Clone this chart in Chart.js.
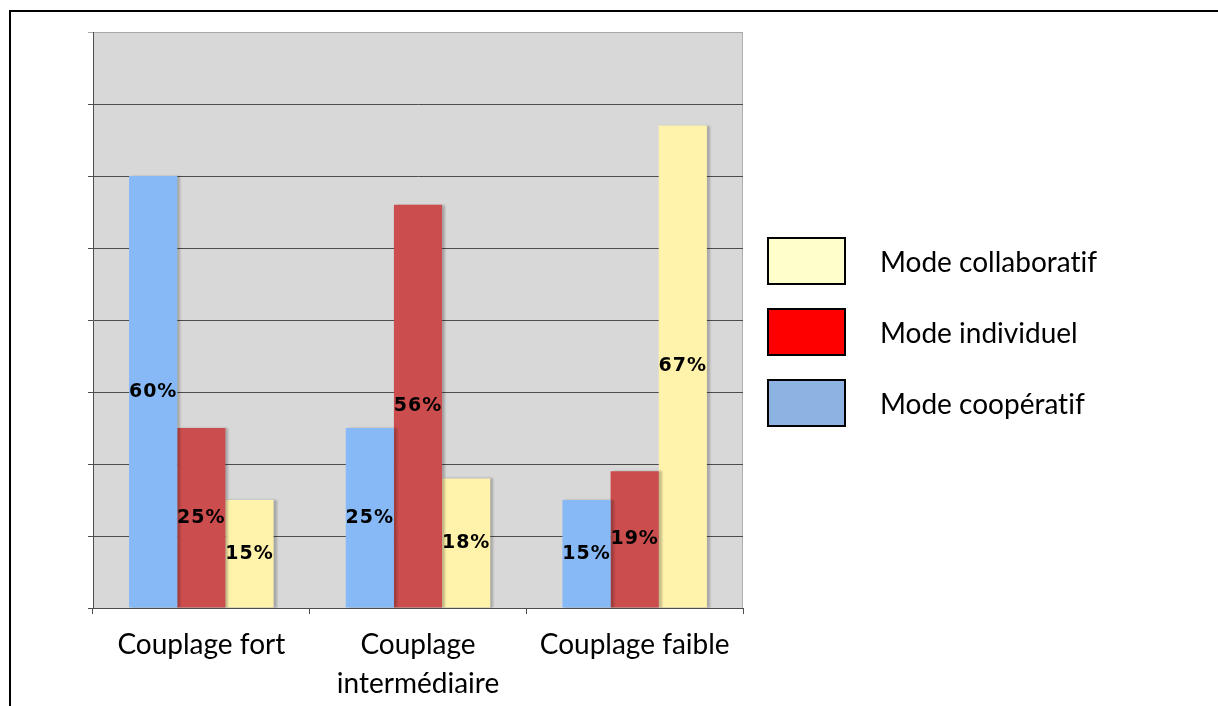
<!DOCTYPE html>
<html lang="fr">
<head>
<meta charset="utf-8">
<title>Modes de travail selon le couplage</title>
<script src="https://cdn.jsdelivr.net/npm/chart.js@4/dist/chart.umd.min.js"></script>
<style>
  body { margin: 0; background: #fff; overflow: hidden; }
  #wrap { position: relative; width: 1218px; height: 706px; }
  #frame { position: absolute; left: 9px; top: 10px; width: 1400px; height: 900px; border: 2px solid #000; box-sizing: border-box; }
  #chartBox { position: absolute; left: 0; top: 0; width: 1218px; height: 706px; }
  #legend { position: absolute; left: 767px; top: 237px; font-family: Lato, "Liberation Sans", sans-serif; font-size: 28px; color: #000; font-variant-ligatures: none; }
  .item { display: flex; align-items: center; height: 48px; margin-bottom: 23px; }
  .swatch { width: 79px; height: 48px; border: 2px solid #000; box-sizing: border-box; }
  .item span { margin-left: 34px; }
</style>
</head>
<body>
<div id="wrap">
  <div id="frame"></div>
  <div id="chartBox"><canvas id="modes"></canvas></div>
  <div id="legend"></div>
</div>
<script>
const categories = ["Couplage fort", ["Couplage", "intermédiaire"], "Couplage faible"];
const seriesNames = ["Mode coopératif", "Mode individuel", "Mode collaboratif"];
const cooperatif = [60, 25, 15];
const individuel = [25, 56, 19];
const collaboratif = [15, 18, 67];
const yTicks = [0, 10, 20, 30, 40, 50, 60, 70, 80];

const barColors = ["#87b9f6", "#cc4d4d", "#fff3ac"];
const legendColors = ["#8db3e2", "#ff0000", "#ffffcc"];

// grey plot area + light right edge
const plotBackground = {
  id: "plotBackground",
  beforeDraw(chart) {
    const { ctx, chartArea: a } = chart;
    ctx.save();
    ctx.fillStyle = "#d8d8d8";
    ctx.fillRect(a.left, a.top, a.right - a.left, a.bottom - a.top);
    ctx.strokeStyle = "#b0b0b0";
    ctx.lineWidth = 1;
    ctx.beginPath();
    ctx.moveTo(a.right - 0.5, a.top);
    ctx.lineTo(a.right - 0.5, a.bottom);
    ctx.stroke();
    ctx.restore();
  },
};

// soft shadow on the right side of the bars
const barShadow = {
  id: "barShadow",
  beforeDatasetsDraw(chart) {
    const ctx = chart.ctx;
    ctx.save();
    ctx.shadowColor = "rgba(0,0,0,0.22)";
    ctx.shadowOffsetX = 3;
    ctx.shadowOffsetY = 0;
    ctx.shadowBlur = 2;
  },
  afterDatasetsDraw(chart) {
    chart.ctx.restore();
  },
};

// value labels in the middle of each bar
const valueLabels = {
  id: "valueLabels",
  afterDatasetsDraw(chart) {
    const ctx = chart.ctx;
    ctx.save();
    ctx.font = "bold 19px 'DejaVu Sans', Verdana, sans-serif";
    ctx.letterSpacing = "1px";
    ctx.fillStyle = "#000";
    ctx.textAlign = "center";
    ctx.textBaseline = "middle";
    chart.data.datasets.forEach((ds, i) => {
      chart.getDatasetMeta(i).data.forEach((bar, j) => {
        const y = (bar.y + bar.base) / 2;
        ctx.fillText(ds.data[j] + "%", bar.x, y);
      });
    });
    ctx.restore();
  },
};

function buildLegend() {
  const box = document.getElementById("legend");
  for (let i = seriesNames.length - 1; i >= 0; i--) {
    const item = document.createElement("div");
    item.className = "item";
    const sw = document.createElement("div");
    sw.className = "swatch";
    sw.style.background = legendColors[i];
    const txt = document.createElement("span");
    txt.textContent = seriesNames[i];
    item.appendChild(sw);
    item.appendChild(txt);
    box.appendChild(item);
  }
}

const values = [cooperatif, individuel, collaboratif];

new Chart(document.getElementById("modes"), {
  type: "bar",
  data: {
    labels: categories,
    datasets: seriesNames.map((name, i) => ({
      label: name,
      data: values[i],
      backgroundColor: barColors[i],
      borderWidth: 0,
      categoryPercentage: 0.667,
      barPercentage: 1.0,
    })),
  },
  options: {
    responsive: true,
    maintainAspectRatio: false,
    animation: false,
    layout: { padding: { left: 88, top: 32, right: 475, bottom: 0 } },
    plugins: {
      legend: { display: false },
      tooltip: { enabled: false },
    },
    scales: {
      x: {
        offset: true,
        grid: { offset: true, drawOnChartArea: false, drawTicks: true, tickLength: 6, color: "#4d4d4d" },
        border: { display: true, color: "#4d4d4d", width: 1 },
        ticks: {
          color: "#000",
          padding: 12,
          maxRotation: 0,
          font: { family: "Lato, 'Liberation Sans', sans-serif", size: 28, lineHeight: 1.38 },
        },
        afterFit(scale) { scale.height = 98; },
      },
      y: {
        min: 0,
        max: 80,
        afterBuildTicks(scale) { scale.ticks = yTicks.map((v) => ({ value: v })); },
        grid: {
          drawTicks: true,
          tickLength: 5,
          color: (c) => (c.tick && c.tick.value === 80 ? "#a8a8a8" : "#4d4d4d"),
        },
        border: { display: true, color: "#4d4d4d", width: 1 },
        ticks: { display: false },
        afterFit(scale) { scale.width = 5; },
      },
    },
  },
  plugins: [plotBackground, barShadow, valueLabels],
});

buildLegend();
</script>
</body>
</html>
